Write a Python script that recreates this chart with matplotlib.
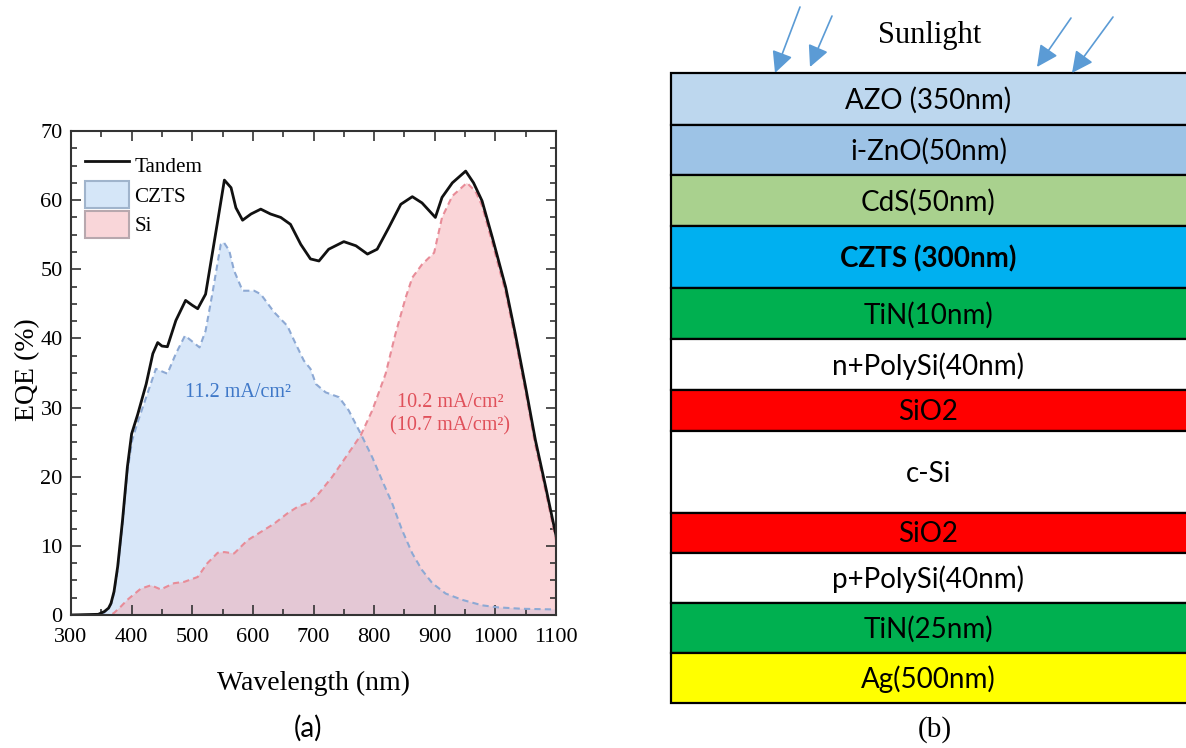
import matplotlib
matplotlib.use("Agg")
import matplotlib.pyplot as plt
from matplotlib.patches import Patch, Rectangle
from matplotlib.lines import Line2D
from matplotlib.ticker import MultipleLocator

plt.rcParams["font.family"] = ["Liberation Serif", "DejaVu Serif"]

# ---------------- EQE spectra (wavelength in nm, EQE in %) ----------------
tandem_nm = [300, 345, 355, 362, 366, 371, 377, 385, 393, 400,
             410, 424, 435, 443, 450, 459, 473, 489, 500, 509,
             522, 542, 553, 564, 572, 583, 597, 613, 629, 646,
             662, 679, 695, 709, 725, 750, 770, 789, 805, 824,
             844, 863, 879, 901, 912, 929, 951, 964, 978, 995,
             1017, 1033, 1050, 1066, 1083, 1100]
tandem_eqe = [0, 0.1, 0.5, 1.0, 1.7, 3.4, 7.0, 13.7, 21.4, 26.2,
              29.0, 33.4, 37.8, 39.4, 38.9, 38.8, 42.6, 45.5, 44.8, 44.3,
              46.4, 57.0, 62.9, 61.8, 58.9, 57.1, 58.0, 58.7, 58.0, 57.5,
              56.5, 53.6, 51.5, 51.2, 52.9, 54.0, 53.4, 52.2, 52.9, 56.0,
              59.4, 60.5, 59.6, 57.5, 60.4, 62.5, 64.2, 62.5, 59.9, 54.6,
              47.4, 40.6, 32.9, 25.3, 18.5, 11.5]

czts_nm = [300, 350, 358, 366, 371, 377, 385, 393, 401, 410,
           424, 440, 459, 473, 488, 498, 512, 522, 533, 547,
           552, 561, 569, 583, 602, 613, 635, 657, 668, 684,
           695, 704, 720, 742, 758, 778, 797, 813, 830, 846,
           863, 879, 896, 918, 945, 978, 1005, 1044, 1100]
czts_eqe = [0, 0, 0.6, 1.5, 3.2, 6.6, 13.2, 20.8, 25.3, 27.9,
            31.5, 35.6, 34.9, 37.8, 40.4, 39.7, 38.7, 41.1, 46.4, 53.6,
            53.9, 52.7, 49.8, 46.9, 46.9, 46.4, 43.8, 41.8, 39.7, 36.8,
            35.6, 33.4, 32.2, 31.5, 29.6, 26.2, 22.8, 19.5, 16.1, 12.3,
            8.9, 6.5, 4.6, 3.1, 2.2, 1.4, 1.1, 0.9, 0.8]

si_nm = [300, 365, 371, 382, 393, 404, 415, 432, 448, 470,
         487, 509, 525, 542, 553, 569, 591, 613, 635, 657,
         673, 695, 709, 731, 753, 778, 797, 819, 835, 852,
         863, 879, 899, 912, 929, 953, 967, 978, 995, 1017,
         1033, 1050, 1066, 1083, 1100]
si_eqe = [0, 0, 0.3, 1.2, 2.2, 3.0, 3.8, 4.3, 3.7, 4.6,
          4.8, 5.5, 7.5, 9.0, 9.1, 8.9, 10.8, 12.0, 13.2, 14.7,
          15.6, 16.4, 17.6, 20.0, 22.8, 26.0, 29.6, 34.9, 40.6, 45.9,
          48.8, 50.7, 52.4, 57.5, 60.6, 62.5, 61.3, 59.2, 53.8, 46.6,
          39.8, 32.1, 24.5, 17.8, 10.8]

series_labels = ["Tandem", "CZTS", "Si"]
czts_jsc = "11.2 mA/cm²"
si_jsc = "10.2 mA/cm²\n(10.7 mA/cm²)"

# ---------------- device stack ----------------
layer_names = ["AZO (350nm)", "i-ZnO(50nm)", "CdS(50nm)", "CZTS (300nm)",
               "TiN(10nm)", "n+PolySi(40nm)", "SiO2", "c-Si", "SiO2",
               "p+PolySi(40nm)", "TiN(25nm)", "Ag(500nm)"]

# styling / layout
layer_colors = ["#BDD7EE", "#9DC3E6", "#A9D18E", "#00B0F0", "#00B050", "#FFFFFF",
                "#FF0000", "#FFFFFF", "#FF0000", "#FFFFFF", "#00B050", "#FFFF00"]
layer_edges = [73, 125, 175, 226, 288, 339, 390, 431, 513, 553, 603, 653, 703]
arrow_tails = [(800, 7), (832, 16), (1071, 18), (1113, 17)]
arrow_heads = [(775, 73), (810, 67), (1037, 67), (1072, 73)]

W, H = 1186, 748
fig = plt.figure(figsize=(W / 100, H / 100), dpi=100)


def px_rect(left, top, right, bottom):
    return [left / W, 1 - bottom / H, (right - left) / W, (bottom - top) / H]


# ---------------- panel (b): layer stack, drawn in pixel coordinates ----------------
axb = fig.add_axes([0, 0, 1, 1])
axb.set_xlim(0, W)
axb.set_ylim(H, 0)
axb.axis("off")

x_left, x_right = 671, W + 4
x_mid = (x_left + W) / 2
for i, (name, color) in enumerate(zip(layer_names, layer_colors)):
    top, bottom = layer_edges[i], layer_edges[i + 1]
    axb.add_patch(Rectangle((x_left, top), x_right - x_left, bottom - top,
                            facecolor=color, edgecolor="black", lw=1.6))
    axb.text(x_mid, (top + bottom) / 2 + 1.5, name, ha="center", va="center",
             fontsize=20, family="Lato",
             weight="bold" if name.startswith("CZTS") else "normal")

axb.text(930, 35, "Sunlight", ha="center", va="center", fontsize=22,
         family="Liberation Serif")
for tail, head in zip(arrow_tails, arrow_heads):
    axb.annotate("", xy=head, xytext=tail,
                 arrowprops=dict(arrowstyle="-|>,head_length=0.65,head_width=0.32",
                                 color="#5B9BD5", lw=1.2, mutation_scale=20,
                                 shrinkA=0, shrinkB=0))

axb.text(935, 730, "(b)", ha="center", va="center", fontsize=21,
         family="Liberation Serif")
axb.text(308, 728, "(a)", ha="center", va="center", fontsize=20, family="Lato")

# ---------------- panel (a): EQE ----------------
ax = fig.add_axes(px_rect(71, 131, 556, 615))

czts_face, si_face = "#A9CBF2", "#F4A3AA"
ax.fill_between(czts_nm, czts_eqe, 0, facecolor=czts_face, alpha=0.45, lw=0)
ax.fill_between(si_nm, si_eqe, 0, facecolor=si_face, alpha=0.45, lw=0)
ax.plot(czts_nm, czts_eqe, color="#8DA9D4", lw=1.5, ls=(0, (3, 2)))
ax.plot(si_nm, si_eqe, color="#E88C98", lw=1.5, ls=(0, (3, 2)))
ax.plot(tandem_nm, tandem_eqe, color="#111111", lw=2.0)

ax.text(575, 32.2, czts_jsc, color="#3F78C8", ha="center", va="center",
        fontsize=14.5)
ax.text(925, 29.0, si_jsc, color="#E0505A", ha="center", va="center",
        fontsize=14.5, linespacing=1.3)

ax.set_xlim(300, 1100)
ax.set_ylim(0, 70)
ax.xaxis.set_major_locator(MultipleLocator(100))
ax.xaxis.set_minor_locator(MultipleLocator(50))
ax.yaxis.set_major_locator(MultipleLocator(10))
ax.yaxis.set_minor_locator(MultipleLocator(2.5))
ax.tick_params(which="both", direction="in", top=True, right=True,
               width=1.2, color="#333333")
ax.tick_params(which="major", length=7, labelsize=16)
ax.tick_params(which="minor", length=4)
ax.tick_params(axis="x", pad=9)
ax.tick_params(axis="y", pad=6)
for s in ax.spines.values():
    s.set_linewidth(1.5)
    s.set_color("#333333")

ax.set_xlabel("Wavelength (nm)", fontsize=20)
ax.xaxis.set_label_coords(0.5, (615 - 683) / 484)
ax.xaxis.label.set_va("center")
ax.set_ylabel("EQE (%)", fontsize=20)
ax.yaxis.set_label_coords((28 - 71) / 485, (615 - 370) / 484)
ax.yaxis.label.set_va("center")

handles = [Line2D([], [], color="#111111", lw=2.0),
           Patch(facecolor="#D5E6F8", edgecolor="#A0B4CC", lw=1.5),
           Patch(facecolor="#F9D6D9", edgecolor="#B8A8AE", lw=1.5)]
ax.legend(handles, series_labels, loc="upper left",
          bbox_to_anchor=((85 - 71) / 485, (615 - 151) / 484),
          frameon=False, borderaxespad=0, borderpad=0, handlelength=2.1,
          handleheight=1.62, handletextpad=0.25, labelspacing=0.12,
          prop={"size": 15.2})

fig.savefig("out.png", dpi=100)
